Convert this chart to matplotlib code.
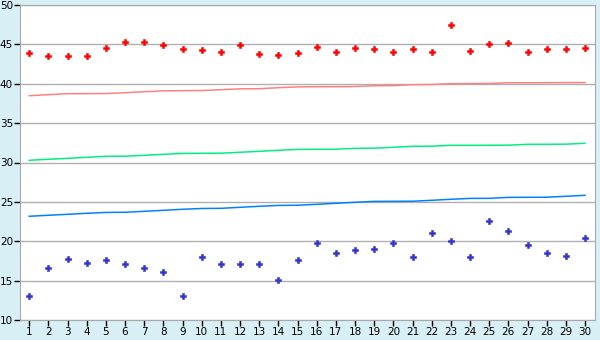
import numpy as np
import matplotlib
matplotlib.use("Agg")
import matplotlib.pyplot as plt

days = list(range(1, 31))

upper_pts = [43.86, 43.48, 43.48, 43.48, 44.50, 45.26, 45.26, 44.88, 44.37, 44.24,
             43.99, 44.88, 43.74, 43.61, 43.86, 44.63, 43.99, 44.50, 44.37, 43.99,
             44.37, 43.99, 47.42, 44.12, 45.01, 45.13, 43.99, 44.37, 44.37, 44.50]
lower_pts = [13.00, 16.57, 17.70, 17.19, 17.57, 17.06, 16.57, 16.06, 13.00, 17.95,
             17.06, 17.06, 17.06, 15.03, 17.57, 19.74, 18.47, 18.86, 18.98, 19.74,
             17.95, 21.00, 20.00, 17.95, 22.54, 21.26, 19.49, 18.47, 18.10, 20.38]
pink_line = [38.48, 38.61, 38.74, 38.74, 38.76, 38.86, 38.99, 39.10, 39.12, 39.14,
             39.24, 39.35, 39.37, 39.50, 39.60, 39.63, 39.63, 39.65, 39.75, 39.76,
             39.88, 39.90, 40.01, 40.02, 40.04, 40.13, 40.13, 40.13, 40.14, 40.15]
green_line = [30.28, 30.41, 30.53, 30.66, 30.79, 30.80, 30.91, 31.04, 31.15, 31.17,
              31.18, 31.30, 31.42, 31.55, 31.66, 31.68, 31.69, 31.80, 31.82, 31.93,
              32.06, 32.07, 32.18, 32.18, 32.19, 32.20, 32.31, 32.31, 32.33, 32.44]
blue_line = [23.17, 23.30, 23.42, 23.55, 23.66, 23.68, 23.80, 23.93, 24.06, 24.16,
             24.18, 24.31, 24.44, 24.55, 24.57, 24.69, 24.82, 24.95, 25.06, 25.07,
             25.08, 25.20, 25.33, 25.44, 25.45, 25.57, 25.58, 25.59, 25.71, 25.83]

fig = plt.figure(figsize=(6, 3.4), dpi=100)
fig.patch.set_facecolor("#d9eff6")
ax = fig.add_axes([20 / 600, 20 / 340, 575 / 600, 315 / 340])
ax.set_facecolor("white")

ax.plot(days, pink_line, color="#ff8080", lw=1.1)
ax.plot(days, green_line, color="#00f080", lw=1.1)
ax.plot(days, blue_line, color="#0080ff", lw=1.1)
ax.plot(days, upper_pts, ls="none", marker="P", ms=5, color="#ff0000",
        mec="#ff0000", mew=0.4)
ax.plot(days, lower_pts, ls="none", marker="P", ms=5, color="#3333cc",
        mec="#3333cc", mew=0.4)

ax.set_xlim(0.52, 30.52)
ax.set_ylim(10, 50)
ax.set_xticks(days)
ax.set_yticks(range(10, 51, 5))
ax.yaxis.grid(True, color="#b0b0b0", lw=1)
ax.set_axisbelow(True)
for s in ax.spines.values():
    s.set_color("#a8a8a8")
ax.tick_params(axis="both", direction="out", length=4, width=1, color="black",
               labelsize=7.5, pad=1)

fig.savefig("out.png", dpi=100, facecolor=fig.get_facecolor())
